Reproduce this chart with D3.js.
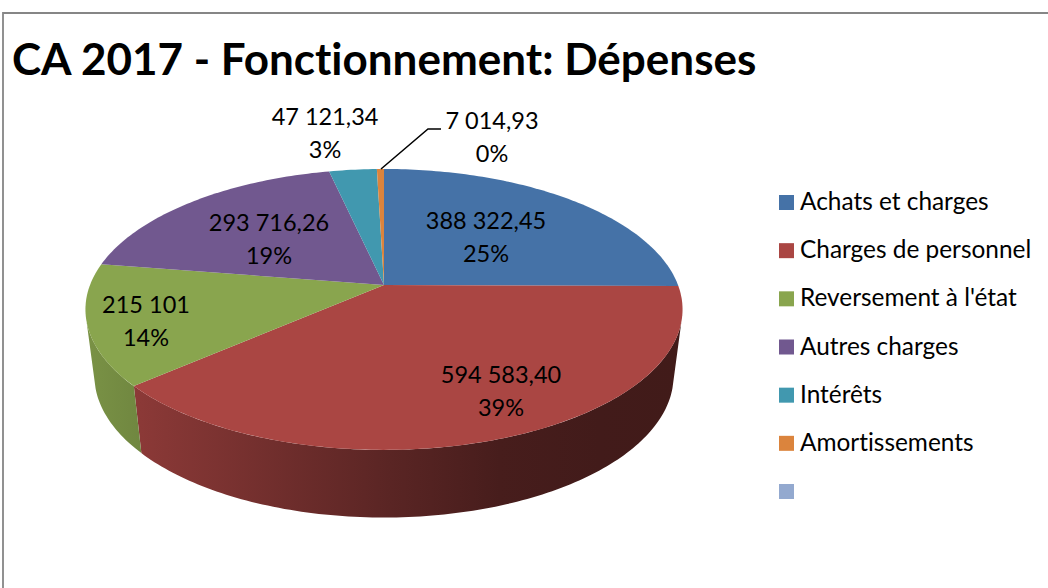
<!DOCTYPE html>
<html>
<head>
<meta charset="utf-8">
<script src="https://cdn.jsdelivr.net/npm/d3@7"></script>
<style>
  html, body { margin: 0; padding: 0; background: #fff; }
  svg { display: block; }
  text { font-family: Lato, "Open Sans", sans-serif; fill: #000; font-variant-ligatures: none; }
</style>
</head>
<body>
<svg id="chart" width="1048" height="588"></svg>
<script>
var titleText = 'CA 2017 - Fonctionnement: Dépenses';
var categories = ['Achats et charges', 'Charges de personnel', "Reversement à l'état", 'Autres charges', 'Intérêts', 'Amortissements', ''];
var values = [388322.45, 594583.40, 215101, 293716.26, 47121.34, 7014.93, 0];
var valueLabels = ['388 322,45', '594 583,40', '215 101', '293 716,26', '47 121,34', '7 014,93', ''];
var percentLabels = ['25%', '39%', '14%', '19%', '3%', '0%', ''];
var colors = ['#4572a7', '#aa4643', '#89a54e', '#71588f', '#4198af', '#db843d', '#93a9cf'];

// label centres, picked by eye
var labelX = [486, 501, 146, 269, 325, 492];
var labelY = [221, 375, 305, 223, 117, 121];

var svg = d3.select('#chart');
var defs = svg.append('defs');

// chart frame, only top and left are inside the crop
svg.append('path')
  .attr('d', 'M3,588V13H1048')
  .style('fill', 'none')
  .style('stroke', '#868686')
  .style('stroke-width', 1.8);

svg.append('text')
  .attr('x', 12)
  .attr('y', 75)
  .style('font-size', '44px')
  .style('font-weight', 700)
  .text(titleText);

// tilted disc, far edge is smaller than near edge
var disc = {cx: 384, R: 294, A: 136.2, k: 0.174};
var topFace = {cy: 285, sx: 1, sy: 1};
var bottomFace = {cy: 351, sx: 0.97, sy: 1.01};

function project(angle, face) {
  var v = Math.cos(angle);
  var s = 1 / (1 + disc.k * v);
  return [disc.cx + disc.R * Math.sin(angle) * s * face.sx, face.cy - disc.A * v * s * face.sy];
}

var arcs = d3.pie().sort(null).startAngle(0).endAngle(2 * Math.PI)(values);
var step = Math.PI / 180;

function anglesBetween(a0, a1) {
  var n = Math.max(2, Math.ceil((a1 - a0) / step) + 1);
  return d3.range(n).map(i => a0 + (a1 - a0) * i / (n - 1));
}

// rim is only seen between the two tangent points
var rimStart = 105 * step;
var rimEnd = 255 * step;

// the rim gets darker going right
var shadeX = [90, 140, 390, 500, 600, 680];
var shadeF = [0.88, 0.82, 0.53, 0.42, 0.39, 0.38];
var offset = d3.scaleLinear().domain(d3.extent(shadeX)).range([0, 1]);

var line = d3.line();

var rims = arcs.filter(d => d.endAngle > rimStart && d.startAngle < rimEnd && d.value > 0);

rims.forEach(function(d) {
  var c = d3.rgb(colors[d.index]);
  defs.append('linearGradient')
    .attr('id', 'rim' + d.index)
    .attr('gradientUnits', 'userSpaceOnUse')
    .attr('x1', shadeX[0])
    .attr('x2', shadeX[shadeX.length - 1])
    .attr('y1', 0)
    .attr('y2', 0)
    .selectAll('stop')
    .data(shadeX)
    .enter()
    .append('stop')
    .attr('offset', x => offset(x))
    .attr('stop-color', (x, i) => d3.rgb(c.r * shadeF[i], c.g * shadeF[i], c.b * shadeF[i]).toString());
});

svg.append('g')
  .selectAll('path')
  .data(rims)
  .enter()
  .append('path')
  .attr('d', function(d) {
    var a = anglesBetween(Math.max(d.startAngle, rimStart), Math.min(d.endAngle, rimEnd));
    var upper = a.map(t => project(t, topFace));
    var lower = a.slice().reverse().map(t => project(t, bottomFace));
    return line(upper.concat(lower)) + 'Z';
  })
  .style('fill', d => `url(#rim${d.index})`);

svg.append('g')
  .selectAll('path')
  .data(arcs.filter(d => d.value > 0))
  .enter()
  .append('path')
  .attr('d', d => line([[disc.cx, topFace.cy]].concat(anglesBetween(d.startAngle, d.endAngle).map(t => project(t, topFace)))) + 'Z')
  .style('fill', d => colors[d.index]);

// leader for the smallest slice
svg.append('path')
  .attr('d', line([[381, 169], [428, 129], [441, 129]]))
  .style('fill', 'none')
  .style('stroke', '#000')
  .style('stroke-width', 1.5);

var labels = svg.append('g')
  .selectAll('g')
  .data(d3.range(labelX.length))
  .enter()
  .append('g')
  .attr('transform', i => `translate(${labelX[i]}, ${labelY[i]})`)
  .style('text-anchor', 'middle')
  .style('font-size', '23.5px');
labels.append('text').attr('y', 8).text(i => valueLabels[i]);
labels.append('text').attr('y', 41).text(i => percentLabels[i]);

var legendY = d3.scalePoint().domain(categories).range([202.5, 491.5]);
var legend = svg.append('g')
  .selectAll('g')
  .data(categories)
  .enter()
  .append('g')
  .attr('transform', d => `translate(779, ${legendY(d)})`);
legend.append('rect')
  .attr('y', -7.5)
  .attr('width', 15)
  .attr('height', 15)
  .style('fill', (d, i) => colors[i]);
legend.append('text')
  .attr('x', 21)
  .attr('y', 7.5)
  .style('font-size', '24.4px')
  .text(d => d);
</script>
</body>
</html>
